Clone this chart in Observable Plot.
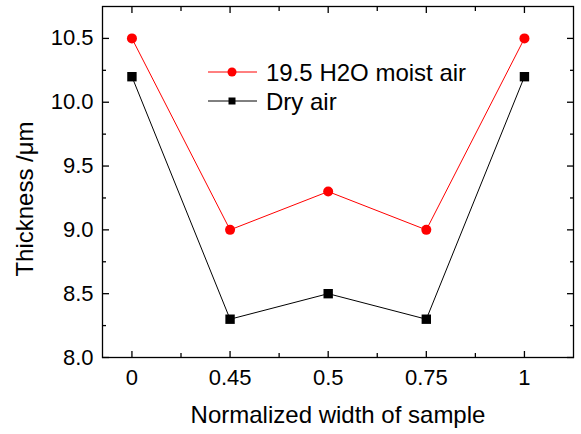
<!DOCTYPE html>
<html>
<head>
<meta charset="utf-8">
<script src="https://cdn.jsdelivr.net/npm/d3@7"></script>
<script src="https://cdn.jsdelivr.net/npm/@observablehq/plot@0.6"></script>
<style>
  html, body { margin: 0; padding: 0; background: #fff; }
</style>
</head>
<body>
<div id="chart"></div>
<script>
const xLabels = ["0", "0.45", "0.5", "0.75", "1"];
const moistValues = [10.5, 9.0, 9.3, 9.0, 10.5];
const dryValues = [10.2, 8.3, 8.5, 8.3, 10.2];
const seriesNames = ["19.5 H2O moist air", "Dry air"];
const yMajor = [8.0, 8.5, 9.0, 9.5, 10.0, 10.5];
const yMinor = [8.25, 8.75, 9.25, 9.75, 10.25];
const xMajor = [1, 2, 3, 4, 5];
const xMinor = [1.5, 2.5, 3.5, 4.5];

const moist = xLabels.map((l, i) => ({idx: i + 1, label: l, value: moistValues[i]}));
const dry = xLabels.map((l, i) => ({idx: i + 1, label: l, value: dryValues[i]}));

const font = "'Liberation Sans', Arial, sans-serif";
const tw = 1.3;

const chart = Plot.plot({
  width: 581,
  height: 434,
  marginLeft: 102,
  marginRight: 8,
  marginTop: 6,
  marginBottom: 77,
  style: {fontFamily: font, fontSize: "22px", color: "black", background: "white"},
  x: {type: "linear", domain: [0.7, 5.5], axis: null},
  y: {domain: [8, 10.75], axis: null},
  marks: [
    Plot.frame({stroke: "black", strokeWidth: 1.3}),
    // left axis
    Plot.axisY(yMajor, {anchor: "left", tickSize: 7, dx: 7, tickPadding: 9, strokeWidth: tw,
      tickFormat: d => d.toFixed(1), fontSize: 22, label: null}),
    Plot.axisY(yMinor, {anchor: "left", tickSize: 4, dx: 4, strokeWidth: tw, tickFormat: () => "", label: null}),
    // right axis
    Plot.axisY(yMajor, {anchor: "right", tickSize: 7, dx: -7, strokeWidth: tw, tickFormat: () => "", label: null}),
    Plot.axisY(yMinor, {anchor: "right", tickSize: 4, dx: -4, strokeWidth: tw, tickFormat: () => "", label: null}),
    // bottom axis
    Plot.axisX(xMajor, {anchor: "bottom", tickSize: 6, dy: -6, tickPadding: 12, strokeWidth: tw,
      tickFormat: i => xLabels[i - 1], fontSize: 22, label: null}),
    Plot.axisX(xMinor, {anchor: "bottom", tickSize: 4, dy: -4, strokeWidth: tw, tickFormat: () => "", label: null}),
    // top axis
    Plot.axisX(xMajor, {anchor: "top", tickSize: 6, dy: 6, strokeWidth: tw, tickFormat: () => "", label: null}),
    Plot.axisX(xMinor, {anchor: "top", tickSize: 4, dy: 4, strokeWidth: tw, tickFormat: () => "", label: null}),
    // titles
    Plot.text(["Thickness /\u03bcm"], {frameAnchor: "left", text: d => d, rotate: -90, textAnchor: "middle",
      lineAnchor: "middle", dx: -77, dy: 17, fontSize: 24}),
    Plot.text(["Normalized width of sample"], {frameAnchor: "bottom", text: d => d, textAnchor: "middle",
      lineAnchor: "middle", dy: 58, fontSize: 24}),
    // data
    Plot.line(moist, {x: "idx", y: "value", stroke: "#ff0000", strokeWidth: 1}),
    Plot.dot(moist, {x: "idx", y: "value", fill: "#ff0000", r: 5, symbol: "circle"}),
    Plot.line(dry, {x: "idx", y: "value", stroke: "black", strokeWidth: 1}),
    Plot.dot(dry, {x: "idx", y: "value", fill: "black", r: 5.3, symbol: "square"})
  ]
});

document.getElementById("chart").appendChild(chart);

// legend
const svg = d3.select(chart);
const leg = svg.append("g").attr("font-family", font).attr("font-size", 24).attr("text-anchor", "start");
const items = [
  {name: seriesNames[0], color: "#ff0000", sym: d3.symbolCircle, size: Math.PI * 4.5 * 4.5, y: 72},
  {name: seriesNames[1], color: "black", sym: d3.symbolSquare, size: 7 * 7, y: 101}
];
for (const it of items) {
  leg.append("line").attr("x1", 208).attr("x2", 257).attr("y1", it.y).attr("y2", it.y)
    .attr("stroke", it.color).attr("stroke-width", 1);
  leg.append("path").attr("d", d3.symbol(it.sym, it.size)()).attr("transform", `translate(232,${it.y})`)
    .attr("fill", it.color);
  leg.append("text").attr("x", 266).attr("y", it.y).attr("dy", "0.36em").attr("fill", "black")
    .attr("text-anchor", "start").text(it.name);
}
</script>
</body>
</html>
